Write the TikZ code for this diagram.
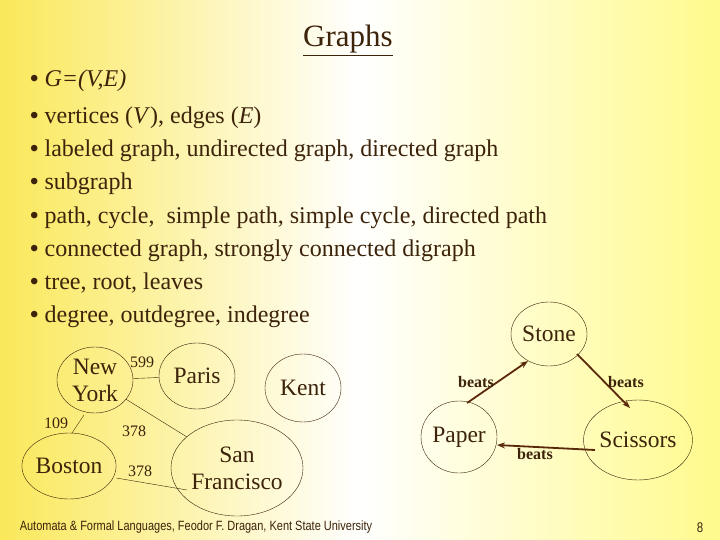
\documentclass[tikz,border=0pt]{standalone}
\usepackage{fontspec}
\setmainfont{Liberation Serif}
\newfontfamily\narrowfont[FakeStretch=0.82]{Liberation Sans}
\usetikzlibrary{shapes.geometric,arrows.meta}
\definecolor{ink}{RGB}{60,35,10}
\definecolor{ylL}{RGB}{250,232,90}
\definecolor{ylR}{RGB}{255,250,140}
\definecolor{arr}{RGB}{90,40,10}
\begin{document}
\begin{tikzpicture}[x=1pt,y=-1pt,
  bul/.style={anchor=base west,inner sep=0,text=ink,font=\fontsize{24}{28}\selectfont},
  city/.style={ellipse,draw=ink,thin,text=ink,align=center,inner sep=0,font=\fontsize{23.5}{27}\selectfont},
  wt/.style={text=ink,inner sep=0,font=\fontsize{16}{17}\selectfont},
  bt/.style={text=ink,inner sep=0,font=\fontsize{16}{17}\selectfont\bfseries},
  arrw/.style={draw=arr,line width=1.8pt,-{Stealth[length=8pt,width=6pt]}}]
\useasboundingbox (0,0) rectangle (720,540);
\shade[left color=ylL,right color=white] (0,0) rectangle (361,540);
\shade[left color=white,right color=ylR] (360,0) rectangle (720,540);
\node[bul,anchor=base,font=\fontsize{31}{33}\selectfont] (title) at (348,47) {\underline{Graphs}};
\node[bul] (l1) at (30,87) {\textbf{•} \textit{G=(V,E)}};
\node[bul] (l2) at (30,124) {\textbf{•} vertices (\textit{V}), edges (\textit{E})};
\node[bul] (l3) at (30,157) {\textbf{•} labeled graph, undirected graph, directed graph};
\node[bul] (l4) at (30,190) {\textbf{•} subgraph};
\node[bul] (l5) at (30,223) {\textbf{•} path, cycle,\ \ simple path, simple cycle, directed path};
\node[bul] (l6) at (30,256) {\textbf{•} connected graph, strongly connected digraph};
\node[bul] (l7) at (30,289) {\textbf{•} tree, root, leaves};
\node[bul] (l8) at (30,322) {\textbf{•} degree, outdegree, indegree};
\node[city,minimum width=76,minimum height=66] (ny) at (95,380) {New\\York};
\node[city,minimum width=76,minimum height=66] (pa) at (197,376) {Paris};
\node[city,minimum width=76,minimum height=68] (ke) at (303,388) {Kent};
\node[city,minimum width=76,minimum height=66] (bo) at (69,466) {Boston};
\node[city,minimum width=132,minimum height=96] (sf) at (237,468) {San\\Francisco};
\draw[ink,thin] (ny) -- (pa);
\draw[ink,thin] (84,415) -- (72,433);
\draw[ink,thin] (ny) -- (sf);
\draw[ink,thin] (bo.east) ++(0,12) -- (187,490);
\node[wt] (w1) at (142,362) {599};
\node[wt] (w2) at (56,423) {109};
\node[wt] (w3) at (134,431) {378};
\node[wt] (w4) at (140,471) {378};
\node[city,minimum width=76,minimum height=64] (st) at (549,334) {Stone};
\node[city,minimum width=76,minimum height=72] (pp) at (459,437) {Paper};
\node[city,minimum width=84,minimum height=80] (sc) at (638,440) {Scissors};
\draw[arrw] (467,403) -- (528,361);
\draw[arrw] (577,354) -- (630,408);
\draw[arrw] (595,450) -- (497,445);
\node[bt] (b1) at (476,382) {beats};
\node[bt] (b2) at (626,382) {beats};
\node[bt] (b3) at (535,454) {beats};
\node[text=ink,inner sep=0,font=\narrowfont\fontsize{13.4}{14}\selectfont] (ft) at (196,527) {Automata \& Formal Languages, Feodor F. Dragan, Kent State University};
\node[text=ink,inner sep=0,font=\narrowfont\fontsize{14}{14}\selectfont] (pg) at (700,528) {8};
\end{tikzpicture}
\end{document}
